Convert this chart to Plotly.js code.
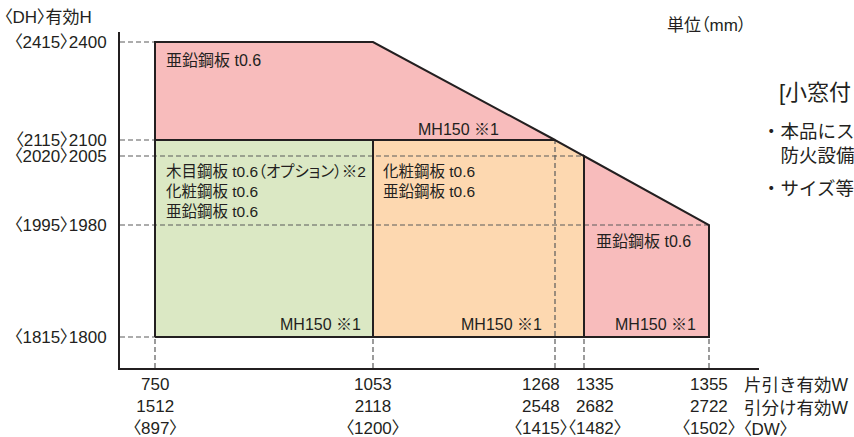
<!DOCTYPE html>
<html>
<head>
<meta charset="utf-8">
<script src="https://cdn.plot.ly/plotly-3.0.1.min.js"></script>
<style>
  html, body { margin: 0; padding: 0; background: #fff; }
  #chart { width: 854px; height: 437px; }
  /* proportional kana / brackets, like the printed original */
  #chart svg text { font-feature-settings: "palt" 1; }
  #chart svg text.fullwidth { font-feature-settings: normal; }
</style>
</head>
<body>
<div id="chart"></div>
<script>
// widths (mm)
const katabikiW = [750, 1053, 1268, 1335, 1355];
const hikiwakeW = [1512, 2118, 2548, 2682, 2722];
const dwW = [897, 1200, 1415, 1482, 1502];
// heights (mm)
const effH = [1800, 1980, 2005, 2100, 2400];
const dhH = [1815, 1995, 2020, 2115, 2415];

// zones: corner widths / heights, fill, labels
const zoneW = [
  [750, 750, 1053, 1268],
  [750, 750, 1053, 1053],
  [1053, 1053, 1268, 1335, 1335],
  [1335, 1335, 1355, 1355]
];
const zoneH = [
  [2100, 2400, 2400, 2100],
  [1800, 2100, 2100, 1800],
  [1800, 2100, 2100, 2005, 1800],
  [1800, 2005, 1980, 1800]
];
const zoneColors = ['#f8bcbc', '#dbe8c4', '#fdd8b0', '#f8bcbc'];

const materialText = [
  '亜鉛鋼板 t0.6',
  '木目鋼板 t0.6（オプション）※2<br>化粧鋼板 t0.6<br>亜鉛鋼板 t0.6',
  '化粧鋼板 t0.6<br>亜鉛鋼板 t0.6',
  '亜鉛鋼板 t0.6'
];
const mhText = 'MH150 ※1';

// schematic (not-to-scale) axis stops
const xSlot = [35, 253, 435, 464, 589];
const ySlot = [31, 143, 212, 228, 326];
const xLabelShift = [0, 0, -14, 11, 0];
const X = w => xSlot[katabikiW.indexOf(w)];
const Y = h => ySlot[effH.indexOf(h)];

const ink = '#231f20';
const FONT = 'Liberation Sans, "Noto Sans CJK JP", sans-serif';

const traces = [];

// fills
zoneW.forEach((ws, i) => {
  traces.push({
    x: ws.map(X).concat([X(ws[0])]),
    y: zoneH[i].map(Y).concat([Y(zoneH[i][0])]),
    mode: 'lines', fill: 'toself', fillcolor: zoneColors[i],
    line: {width: 0}, hoverinfo: 'skip', showlegend: false
  });
});

// dashed guides
const dash = {color: '#5a5a5a', width: 1.2, dash: '5px,3px'};
const hGuides = [[2400, 750], [2100, 750], [2005, 1335], [1980, 1355], [1800, 750]];
hGuides.forEach(g => {
  traces.push({x: [0, X(g[1])], y: [Y(g[0]), Y(g[0])], mode: 'lines',
    line: dash, hoverinfo: 'skip', showlegend: false});
});
const vGuides = [[750, 1800], [1053, 1800], [1268, 2100], [1335, 1800], [1355, 1800]];
vGuides.forEach(g => {
  traces.push({x: [X(g[0]), X(g[0])], y: [0, Y(g[1])], mode: 'lines',
    line: dash, hoverinfo: 'skip', showlegend: false});
});

// outlines
zoneW.forEach((ws, i) => {
  traces.push({
    x: ws.map(X).concat([X(ws[0])]),
    y: zoneH[i].map(Y).concat([Y(zoneH[i][0])]),
    mode: 'lines', line: {color: ink, width: 2},
    hoverinfo: 'skip', showlegend: false
  });
});

const big = (s) => ({family: FONT, size: s, color: ink});
const txt = (o) => Object.assign({showarrow: false, font: big(16), align: 'left'}, o);

const annotations = [
  // material labels
  txt({x: X(750), y: Y(2400), xanchor: 'left', yanchor: 'top', xshift: 9, yshift: -8, text: materialText[0]}),
  txt({x: X(750), y: Y(2005), xanchor: 'left', yanchor: 'top', xshift: 9, yshift: -5, text: materialText[1], font: big(15.5)}),
  txt({x: X(1053), y: Y(2005), xanchor: 'left', yanchor: 'top', xshift: 8, yshift: -5, text: materialText[2], font: big(15.5)}),
  txt({x: X(1335), y: Y(1980), xanchor: 'left', yanchor: 'top', xshift: 10, yshift: -6, text: materialText[3]}),
  // MH150 labels
  txt({x: X(1268), y: Y(2100), xanchor: 'right', yanchor: 'bottom', xshift: -54, yshift: 0, text: mhText}),
  txt({x: X(1053), y: Y(1800), xanchor: 'right', yanchor: 'bottom', xshift: -10, yshift: 2, text: mhText}),
  txt({x: X(1268), y: Y(1800), xanchor: 'right', yanchor: 'bottom', xshift: -11, yshift: 2, text: mhText}),
  txt({x: X(1355), y: Y(1800), xanchor: 'right', yanchor: 'bottom', xshift: -11, yshift: 2, text: mhText}),
  // axis captions
  txt({x: 0, y: 336, xanchor: 'right', yanchor: 'bottom', xshift: -9, yshift: 3,
    text: '〈DH〉有効H', font: big(17)}),
  txt({x: X(1355), y: 0, xanchor: 'left', yanchor: 'top', xshift: 33, yshift: -5,
    text: '片引き有効W<br>引分け有効W', font: big(17.5)}),
  txt({x: X(1355), y: 0, xanchor: 'left', yanchor: 'top', xshift: 32, yshift: -50,
    text: '〈DW〉', font: big(17)}),
  txt({xref: 'paper', yref: 'paper', x: (715 - 120) / 639, y: (368 - 25) / 336, xanchor: 'center', yanchor: 'middle',
    text: '単位（mm）', font: big(17)}),
  // side notes (cut off at page edge)
  txt({xref: 'paper', yref: 'paper', x: (777 - 120) / 639, y: (368 - 92) / 336, xanchor: 'left', yanchor: 'middle',
    text: '[小窓付きタイプ]', font: big(22)}),
  txt({xref: 'paper', yref: 'paper', x: (760 - 120) / 639, y: (368 - 143) / 336, xanchor: 'left', yanchor: 'middle',
    text: '・本品にスリット加工を施すと<br>　防火設備の認定外となります。', font: big(18.5)}),
  txt({xref: 'paper', yref: 'paper', x: (760 - 120) / 639, y: (368 - 188) / 336, xanchor: 'left', yanchor: 'middle',
    text: '・サイズ等の詳細はお問い合わせください。', font: big(18.5)})
];

// width labels under the axis
katabikiW.forEach((w, i) => {
  annotations.push(txt({x: X(w), y: 0, xanchor: 'center', yanchor: 'top', align: 'center',
    xshift: xLabelShift[i], yshift: -5, font: big(17),
    text: `${w}<br>${hikiwakeW[i]}<br>〈${dwW[i]}〉`}));
});

const layout = {
  width: 854, height: 437,
  margin: {l: 120, r: 95, t: 32, b: 69},
  paper_bgcolor: '#ffffff', plot_bgcolor: '#ffffff',
  showlegend: false,
  font: {family: FONT, color: ink},
  xaxis: {
    range: [0, 639], showgrid: false, zeroline: false, fixedrange: true,
    showline: true, linecolor: ink, linewidth: 2,
    ticks: '', showticklabels: false
  },
  yaxis: {
    range: [0, 336], showgrid: false, zeroline: false, fixedrange: true,
    showline: true, linecolor: ink, linewidth: 2,
    ticks: '', tickvals: ySlot,
    ticktext: effH.map((h, i) => `〈${dhH[i]}〉${h}`),
    tickfont: big(17), ticklabelstandoff: 8
  },
  annotations: annotations
};

Plotly.newPlot('chart', traces, layout, {displayModeBar: false, staticPlot: true}).then(gd => {
  // side notes and the W captions are set full-width in the original
  gd.querySelectorAll('.annotation-text').forEach(t => {
    if (/本品|サイズ|小窓|有効W/.test(t.textContent)) t.classList.add('fullwidth');
  });
});
</script>
</body>
</html>
